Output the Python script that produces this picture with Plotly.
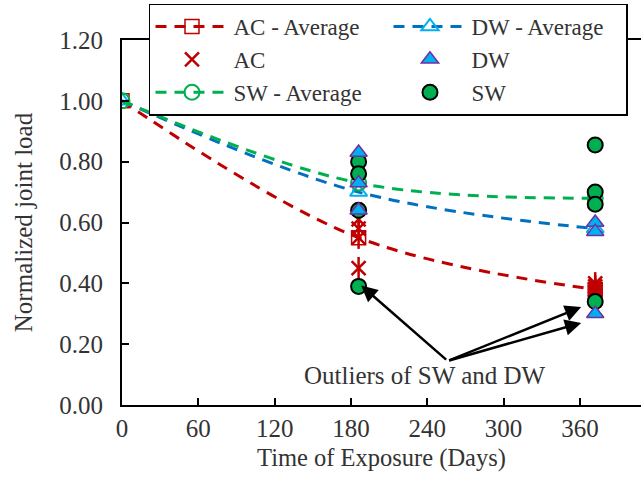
import plotly.graph_objects as go

# Exposure times (days) at which joints were tested
days = [0, 186, 372]
tick_days = [0, 60, 120, 180, 240, 300, 360]

# Average normalized joint load per exposure condition
ac_avg = [1.00, 0.55, 0.38]
dw_avg = [1.00, 0.70, 0.58]
sw_avg = [1.00, 0.73, 0.68]

# Individual specimen results
ac_days = [186, 186, 186, 186, 372, 372, 372, 372]
ac_load = [0.61, 0.58, 0.55, 0.45, 0.40, 0.39, 0.38, 0.37]
dw_days = [186, 186, 186, 372, 372, 372]
dw_load = [0.83, 0.73, 0.64, 0.60, 0.57, 0.30]
sw_days = [186, 186, 186, 186, 372, 372, 372, 372]
sw_load = [0.80, 0.76, 0.64, 0.39, 0.855, 0.70, 0.66, 0.34]

RED = "#C00000"
BLUE = "#0070C0"
LIGHT_BLUE = "#00B0F0"
PURPLE = "#7030A0"
GREEN = "#00B050"
TEXT = "#333333"
FONT = "Liberation Serif"
DASH = "11px,8px"

fig = go.Figure()

fig.add_trace(go.Scatter(
    x=days, y=ac_avg, name="AC - Average", mode="lines+markers", legendrank=1,
    line=dict(color=RED, width=3, dash=DASH, shape="spline"),
    marker=dict(symbol="square-open", size=14, color=RED, line=dict(width=1.5, color=RED)),
))
fig.add_trace(go.Scatter(
    x=days, y=dw_avg, name="DW - Average", mode="lines+markers", legendrank=2,
    line=dict(color=BLUE, width=3, dash=DASH, shape="spline"),
    marker=dict(symbol="triangle-up-open", size=15, color=LIGHT_BLUE, line=dict(width=2, color=LIGHT_BLUE)),
))
fig.add_trace(go.Scatter(
    x=days, y=sw_avg, name="SW - Average", mode="lines+markers", legendrank=5,
    line=dict(color=GREEN, width=3, dash=DASH, shape="spline"),
    marker=dict(symbol="circle-open", size=15, color=GREEN, line=dict(width=2, color=GREEN)),
))

# AC specimens: star marker built from an X and a vertical stroke
fig.add_trace(go.Scatter(
    x=ac_days, y=ac_load, name="AC", mode="markers", legendrank=3,
    marker=dict(symbol="x-thin-open", size=14, color=RED, line=dict(width=2.5, color=RED)),
))
fig.add_trace(go.Scatter(
    x=ac_days, y=ac_load, name="AC", mode="markers", showlegend=False,
    marker=dict(symbol="line-ns-open", size=16, color=RED, line=dict(width=2.5, color=RED)),
))
fig.add_trace(go.Scatter(
    x=sw_days, y=sw_load, name="SW", mode="markers", legendrank=6,
    marker=dict(symbol="circle", size=15, color=GREEN, line=dict(width=2, color="black")),
))
fig.add_trace(go.Scatter(
    x=dw_days, y=dw_load, name="DW", mode="markers", legendrank=4,
    marker=dict(symbol="triangle-up", size=15, color=LIGHT_BLUE, line=dict(width=1.5, color=PURPLE)),
))

# Outlier callout
label_x, label_y = 238, 0.098
tail_x, tail_y = 256, 0.145
arrow_tips = [(188, 0.393), (361, 0.322), (361, 0.270)]
for tx, ty in arrow_tips:
    fig.add_annotation(
        x=tx, y=ty, ax=tail_x, ay=tail_y, xref="x", yref="y", axref="x", ayref="y",
        text="", showarrow=True, arrowhead=2, arrowsize=1.3, arrowwidth=2.5, arrowcolor="black",
    )
fig.add_annotation(
    x=label_x, y=label_y, xref="x", yref="y", text="Outliers of SW and DW",
    showarrow=False, font=dict(family=FONT, size=25, color=TEXT),
)

fig.update_layout(
    width=641, height=486,
    margin=dict(l=122, r=0, t=40, b=81),
    paper_bgcolor="white", plot_bgcolor="white",
    font=dict(family=FONT, size=25, color=TEXT),
    legend=dict(
        orientation="h", x=0.052, y=1.1, xanchor="left", yanchor="top",
        entrywidth=150, itemwidth=73,
        bgcolor="white", bordercolor="black", borderwidth=1.5,
        font=dict(family=FONT, size=23, color=TEXT),
        traceorder="normal",
    ),
    xaxis=dict(
        range=[0, 408], tickvals=tick_days, ticks="inside", ticklen=7, tickwidth=1.5,
        tickcolor="black", showline=True, linecolor="black", linewidth=2, mirror=True,
        showgrid=False, zeroline=False,
        tickfont=dict(family=FONT, size=25, color=TEXT),
        title=dict(text="Time of Exposure (Days)", standoff=8,
                   font=dict(family=FONT, size=24.5, color=TEXT)),
    ),
    yaxis=dict(
        range=[0, 1.2], dtick=0.2, tickformat=".2f", ticks="inside", ticklen=7, tickwidth=1.5,
        tickcolor="black", showline=True, linecolor="black", linewidth=2,
        showgrid=False, zeroline=False, ticklabelstandoff=12,
        tickfont=dict(family=FONT, size=25, color=TEXT),
        title=dict(text="Normalized joint load", standoff=20,
                   font=dict(family=FONT, size=25, color=TEXT)),
    ),
)

fig.write_html("out.html")
